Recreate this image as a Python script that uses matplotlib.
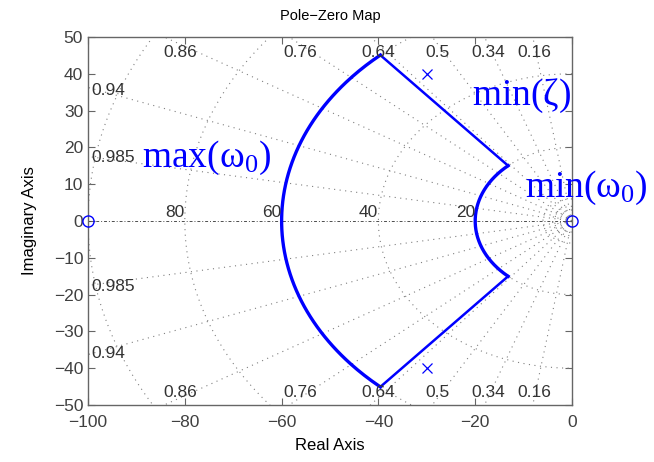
import numpy as np
import matplotlib.pyplot as plt

plt.rcParams['font.family'] = ['Liberation Sans', 'DejaVu Sans']
plt.rcParams['mathtext.fontset'] = 'custom'
plt.rcParams['mathtext.rm'] = 'Liberation Serif'
plt.rcParams['mathtext.it'] = 'Liberation Serif:italic'

# system poles / zeros
pole_re = [-30, -30]
pole_im = [40, -40]
zero_re = [-100, 0]
zero_im = [0, 0]

# damping / natural frequency grid
zetas = [0.16, 0.34, 0.5, 0.64, 0.76, 0.86, 0.94, 0.985]
zeta_labels = ['0.16', '0.34', '0.5', '0.64', '0.76', '0.86', '0.94', '0.985']
wn_circles = [20, 40, 60, 80, 100]
wn_labels = ['20', '40', '60', '80']
wn_small = [1.5, 3, 4, 6]

# design region limits
zeta_min = 0.66
wn_min = 20
wn_max = 60

grid_col = '0.5'
blue = '#0000ff'

fig = plt.figure(figsize=(6.54, 4.62), dpi=100)
ax = fig.add_axes([0.1346, 0.1234, 0.74, 0.7965])

# constant damping rays
for z in zetas:
    s = np.sqrt(1 - z**2)
    for sgn in (1, -1):
        ax.plot([0, -200 * z], [0, sgn * 200 * s], ls=(0, (1, 4)), color=grid_col, lw=0.8)

# constant wn circles (left half plane)
th = np.linspace(np.pi / 2, 3 * np.pi / 2, 400)
for w in wn_circles + wn_small:
    ax.plot(w * np.cos(th), w * np.sin(th), ls=(0, (1, 4)), color=grid_col, lw=0.8)

# real axis
ax.plot([-100, 0], [0, 0], ls=(0, (3, 2, 1, 2)), color='0.3', lw=0.7)

# zeta labels
lab_fs = 12.5
for z, lab in zip(zetas, zeta_labels):
    s = np.sqrt(1 - z**2)
    xt = -48 * z / s
    if xt > -95:
        ax.text(xt, 45.9, lab, ha='center', va='center', fontsize=lab_fs, color='0.2')
        ax.text(xt, -46.5, lab, ha='center', va='center', fontsize=lab_fs, color='0.2')
    else:
        yt = 98 * s / z
        ax.text(-99.3, yt, lab, ha='left', va='center', fontsize=lab_fs, color='0.2')
        ax.text(-99.3, -yt - 0.5, lab, ha='left', va='center', fontsize=lab_fs, color='0.2')

# wn labels
for lab in wn_labels:
    ax.text(-float(lab) - 2, 2.4, lab, ha='center', va='center', fontsize=lab_fs, color='0.2')

# design region boundary
phi = np.arccos(zeta_min)
ang = np.linspace(np.pi - phi, np.pi + phi, 200)
ax.plot(wn_max * np.cos(ang), wn_max * np.sin(ang), color=blue, lw=2.4)
ax.plot(wn_min * np.cos(ang), wn_min * np.sin(ang), color=blue, lw=2.4)
for sgn in (1, -1):
    ax.plot([-wn_min * zeta_min, -wn_max * zeta_min],
            [sgn * wn_min * np.sin(phi), sgn * wn_max * np.sin(phi)], color=blue, lw=1.8)

# poles and zeros
ax.plot(pole_re, pole_im, 'x', color=blue, ms=7, mew=0.9, ls='none')
ax.plot(zero_re, zero_im, 'o', color=blue, ms=8, mfc='none', mew=1.0, ls='none', clip_on=False, zorder=5)

# annotations
ax.text(-88.8, 14.7, r'$\mathrm{max(\omega_0)}$', fontsize=27, color=blue, va='baseline')
ax.text(-20.7, 31.5, r'$\mathrm{min(\zeta)}$', fontsize=27, color=blue, va='baseline')
ax.text(-9.7, 6.5, r'$\mathrm{min(\omega_0)}$', fontsize=27, color=blue, va='baseline', clip_on=False)

ax.set_xlim(-100, 0)
ax.set_ylim(-50, 50)
ax.set_xticks(np.arange(-100, 1, 20))
ax.set_yticks(np.arange(-50, 51, 10))
ax.set_yticklabels(['\u2212' + str(-v) if v < 0 else str(v) for v in range(-50, 51, 10)])
ax.set_xticklabels(['\u2212' + str(-v) if v < 0 else str(v) for v in range(-100, 1, 20)])
ax.tick_params(direction='in', top=True, right=True, length=5, width=0.8,
               color='0.4', labelcolor='0.25', labelsize=12.5)
ax.tick_params(axis='x', pad=7)
for sp in ax.spines.values():
    sp.set_color('0.4')
    sp.set_linewidth(1.0)

ax.set_xlabel('Real Axis', fontsize=12, labelpad=6)
ax.set_ylabel('Imaginary Axis', fontsize=12, labelpad=12)
ax.set_title('Pole\u2212Zero Map', fontsize=10.5, pad=12)

fig.savefig('out.png', dpi=100)
